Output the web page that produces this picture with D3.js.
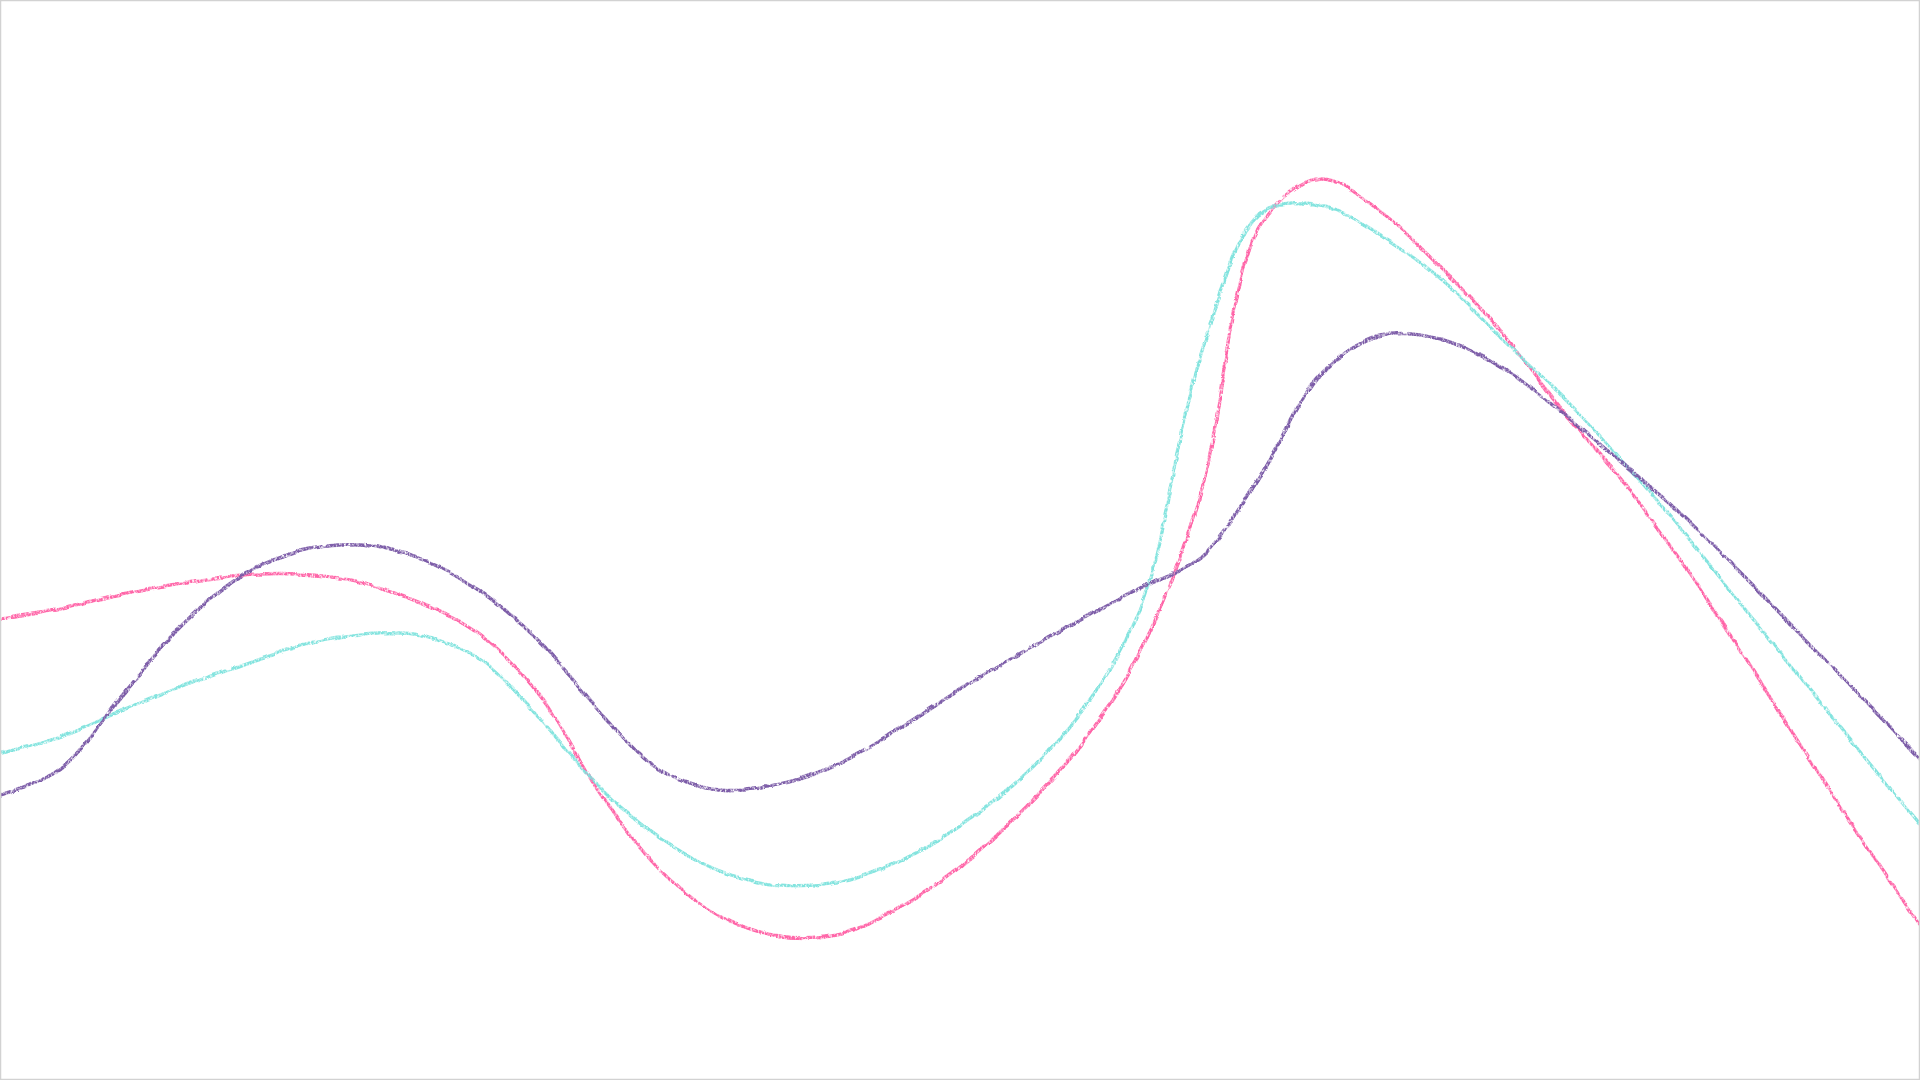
<!DOCTYPE html>
<html>
<head>
<meta charset="utf-8">
<script src="https://cdn.jsdelivr.net/npm/d3@7/dist/d3.min.js"></script>
<style>
  html, body { margin: 0; padding: 0; background: #ffffff; overflow: hidden; }
  svg { display: block; }
</style>
</head>
<body>
<svg id="chart" width="1920" height="1080"></svg>
<script>
// ---- data ----
const xIndex = d3.range(33); // 33 evenly spaced samples across the width
const pinkValues = [46.2, 47.2, 48.6, 49.7, 50.5, 50.6, 49.8, 47.8, 44.6, 38.4, 28.6, 21.0, 16.4, 14.4, 14.7, 17.4, 21.4, 26.8, 33.5, 43.0, 58.5, 85.6, 90.2, 86.9, 81.3, 75.0, 67.2, 60.2, 52.0, 43.0, 33.5, 24.3, 15.4];
const cyanValues = [32.8, 34.4, 37.0, 39.4, 41.5, 43.5, 44.6, 44.5, 42.1, 36.1, 29.2, 24.2, 20.9, 19.5, 19.9, 22.0, 25.5, 30.2, 36.8, 47.3, 72.4, 86.7, 87.5, 84.5, 80.2, 74.3, 68.6, 62.2, 55.2, 47.7, 40.3, 32.8, 25.6];
const purpleValues = [28.5, 31.2, 38.3, 45.4, 50.4, 53.0, 53.6, 52.2, 48.9, 43.8, 36.8, 31.0, 29.1, 29.7, 31.8, 35.3, 39.2, 42.7, 46.1, 49.3, 52.3, 60.5, 70.6, 74.5, 74.2, 71.4, 66.9, 61.9, 56.7, 50.8, 44.6, 38.4, 32.1];
const seriesNames = ["pink", "cyan", "purple"];
const seriesColors = ["#ff62a6", "#7fe3dd", "#7a5aa6"];

// ---- layout ----
const W = 1920, H = 1080;
const svg = d3.select("#chart");

const x = d3.scaleLinear().domain([0, xIndex.length - 1]).range([0, W]);
const y = d3.scaleLinear().domain([0, 108]).range([H, 0]);

const defs = svg.append("defs");
function crayonFilter(id, seed) {
  const f = defs.append("filter").attr("id", id)
    .attr("x", "-2%").attr("y", "-5%").attr("width", "104%").attr("height", "110%");
  f.append("feTurbulence").attr("type", "fractalNoise").attr("baseFrequency", "0.55 0.35")
    .attr("numOctaves", 2).attr("seed", seed).attr("result", "noise");
  f.append("feColorMatrix").attr("in", "noise").attr("type", "matrix")
    .attr("values", "0 0 0 0 0  0 0 0 0 0  0 0 0 0 0  2.6 0 0 0 -0.45").attr("result", "mask");
  f.append("feComposite").attr("in", "SourceGraphic").attr("in2", "mask").attr("operator", "in").attr("result", "tex");
  f.append("feTurbulence").attr("type", "turbulence").attr("baseFrequency", "0.05")
    .attr("numOctaves", 1).attr("seed", seed + 7).attr("result", "warp");
  f.append("feDisplacementMap").attr("in", "tex").attr("in2", "warp").attr("scale", 1.4)
    .attr("xChannelSelector", "R").attr("yChannelSelector", "G").attr("result", "disp");
  f.append("feGaussianBlur").attr("in", "disp").attr("stdDeviation", 0.65);
}
crayonFilter("crayon0", 2);
crayonFilter("crayon1", 11);
crayonFilter("crayon2", 23);

const line = d3.line()
  .x((d, i) => x(xIndex[i]))
  .y(d => y(d))
  .curve(d3.curveCatmullRom.alpha(0.5));

const allSeries = [pinkValues, cyanValues, purpleValues];
const dashes = [
  "210 6 160 8 260 5 140 7 300 6",
  "240 7 190 5 150 9 280 6 170 5",
  "180 8 230 6 270 7 150 5 200 7"
];
const widths = [3.2, 3.2, 3.4];

const g = svg.append("g");
allSeries.forEach((vals, s) => {
  const grp = g.append("g").attr("class", "series " + seriesNames[s])
    .attr("filter", `url(#crayon${s})`);
  grp.append("path")
    .attr("d", line(vals))
    .attr("fill", "none")
    .attr("stroke", seriesColors[s])
    .attr("stroke-width", widths[s])
    .attr("stroke-linecap", "round")
    .attr("stroke-linejoin", "round")
    .attr("stroke-dasharray", dashes[s])
    .attr("opacity", 0.95);
  grp.append("path")
    .attr("d", line(vals))
    .attr("fill", "none")
    .attr("stroke", seriesColors[s])
    .attr("stroke-width", widths[s] * 0.5)
    .attr("stroke-linecap", "round")
    .attr("stroke-dasharray", dashes[(s + 1) % 3])
    .attr("stroke-dashoffset", 90)
    .attr("transform", "translate(0.5,0.9)")
    .attr("opacity", 0.75);
});

// frame
svg.append("rect")
  .attr("x", 0.5).attr("y", 0.5)
  .attr("width", W - 1).attr("height", H - 1)
  .attr("fill", "none")
  .attr("stroke", "#d2d2d2")
  .attr("stroke-width", 1.5);
</script>
</body>
</html>
